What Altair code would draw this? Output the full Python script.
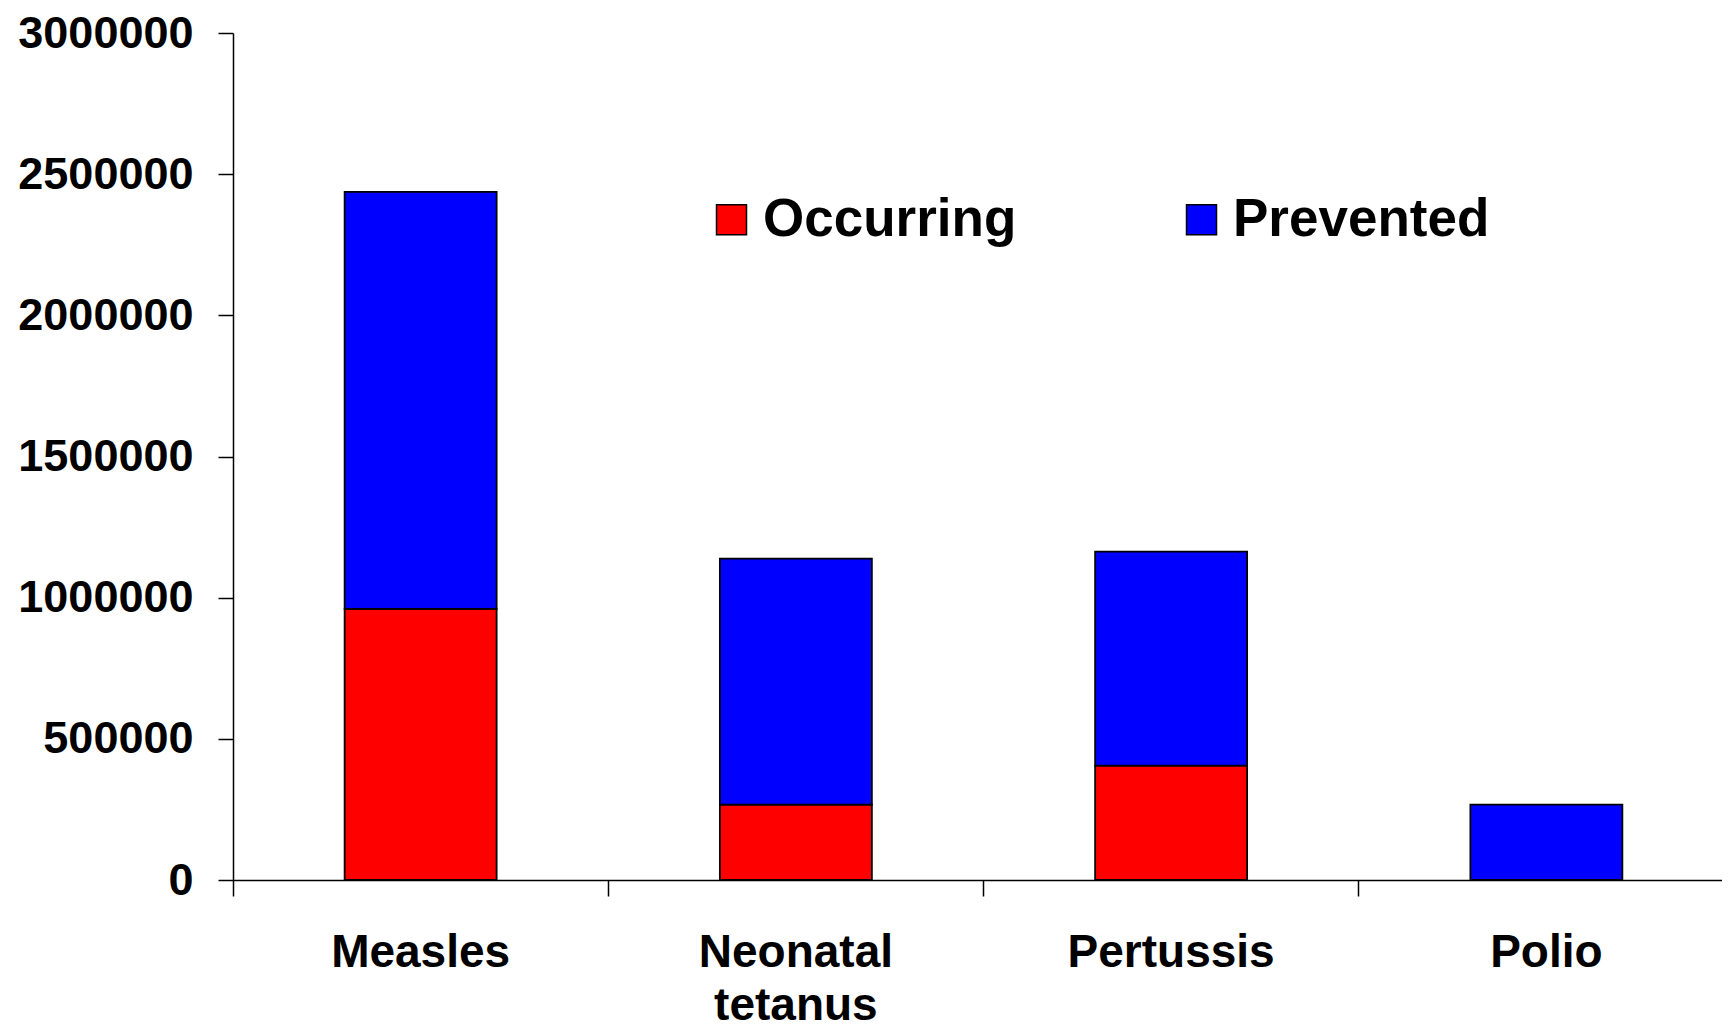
import altair as alt
import pandas as pd

diseases = ["Measles", "Neonatal tetanus", "Pertussis", "Polio"]
occurring = [960000, 267000, 405000, 0]
prevented = [1477000, 871000, 758000, 267000]
series = ["Occurring", "Prevented"]
colors = ["#FF0000", "#0000FF"]
y_ticks = [0, 500000, 1000000, 1500000, 2000000, 2500000, 3000000]

rows = []
for d, o, p in zip(diseases, occurring, prevented):
    rows.append({"disease": d, "series": series[0], "value": o, "order": 0})
    rows.append({"disease": d, "series": series[1], "value": p, "order": 1})
df = pd.DataFrame(rows)

FONT = "Liberation Sans"
W = 1489
H = 847
X_RANGE = 1501

chart = alt.Chart(df).mark_bar(
    stroke="black", strokeWidth=1.8, width=alt.RelativeBandSize(0.405)
).encode(
    x=alt.X(
        "disease:N", sort=diseases,
        scale=alt.Scale(paddingInner=0, paddingOuter=0, range=[0, X_RANGE]),
        axis=alt.Axis(
            title=None, labelAngle=0, bandPosition=0,
            tickSize=16, labelPadding=34, labelFontSize=46, labelFont=FONT,
            labelFontWeight="bold", labelColor="black", labelLimit=0,
            labelOverlap=False, labelBaseline="top", labelLineHeight=53,
            labelExpr="datum.label == 'Neonatal tetanus' ? ['Neonatal', 'tetanus'] : datum.label",
            domainColor="black", tickColor="black", domainWidth=1.5, tickWidth=1.5,
        ),
    ),
    y=alt.Y(
        "value:Q", stack="zero",
        scale=alt.Scale(domain=[0, 3000000], nice=False),
        axis=alt.Axis(
            values=y_ticks, format="d", title=None, grid=False,
            tickSize=15, labelPadding=25, labelFontSize=45, labelFont=FONT,
            labelFontWeight="bold", labelColor="black", labelLimit=0,
            labelOverlap=False,
            domainColor="black", tickColor="black", domainWidth=1.5, tickWidth=1.5,
        ),
    ),
    color=alt.Color(
        "series:N",
        scale=alt.Scale(domain=series, range=colors),
        legend=alt.Legend(
            title=None, orient="none", legendX=472, legendY=160,
            direction="horizontal", symbolType="square", symbolSize=900,
            labelFontSize=53, labelFont=FONT, labelFontWeight="bold",
            labelColor="black", labelLimit=0, labelOffset=5,
            symbolStrokeColor="black", symbolStrokeWidth=1.5,
            symbolOpacity=1, columnPadding=158,
        ),
    ),
    order=alt.Order("order:Q"),
).properties(
    width=W, height=H,
    autosize=alt.AutoSizeParams(type="none"),
    padding={"left": 225, "top": 25, "right": 0, "bottom": 140},
    background="white",
).configure_view(stroke=None)

chart.save("out.html", embed_options={"renderer": "svg", "actions": False})
